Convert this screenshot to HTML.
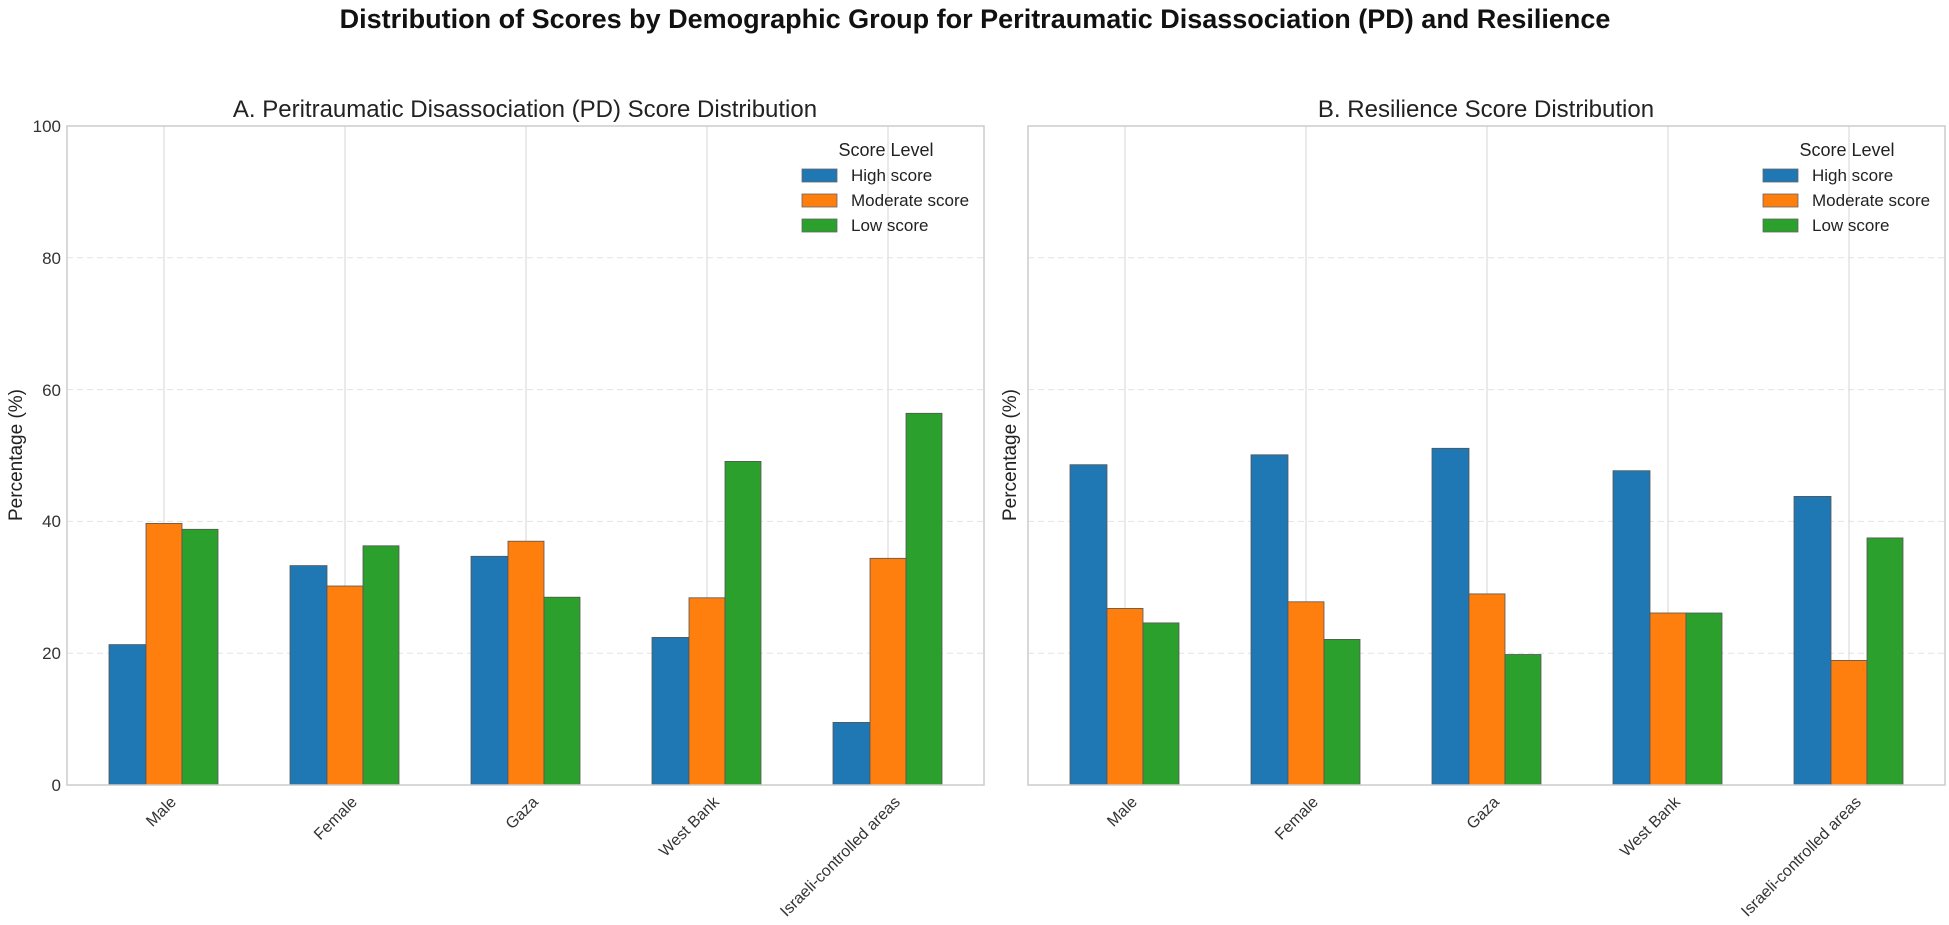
<!DOCTYPE html>
<html><head><meta charset="utf-8"><style>
html,body{margin:0;padding:0;background:#fff;}
svg{display:block;font-family:"Liberation Sans",sans-serif;}
</style></head><body>
<svg width="1949" height="925" viewBox="0 0 1949 925" xmlns="http://www.w3.org/2000/svg">
<text x="975" y="28" text-anchor="middle" font-size="27" font-weight="bold" fill="#111">Distribution of Scores by Demographic Group for Peritraumatic Disassociation (PD) and Resilience</text>
<text x="525" y="117" text-anchor="middle" font-size="24" fill="#222">A. Peritraumatic Disassociation (PD) Score Distribution</text>
<text x="1486" y="117" text-anchor="middle" font-size="24" fill="#222">B. Resilience Score Distribution</text>

<g stroke="#e3e3e3" stroke-width="1" stroke-dasharray="6,4">
<line x1="67" x2="984" y1="653.2" y2="653.2"/><line x1="67" x2="984" y1="521.4" y2="521.4"/><line x1="67" x2="984" y1="389.6" y2="389.6"/><line x1="67" x2="984" y1="257.8" y2="257.8"/>
<line x1="1028" x2="1945" y1="653.2" y2="653.2"/><line x1="1028" x2="1945" y1="521.4" y2="521.4"/><line x1="1028" x2="1945" y1="389.6" y2="389.6"/><line x1="1028" x2="1945" y1="257.8" y2="257.8"/>
</g>
<g stroke="#dcdcdc" stroke-width="1.2">
<line x1="164" x2="164" y1="126" y2="785"/><line x1="345" x2="345" y1="126" y2="785"/><line x1="526" x2="526" y1="126" y2="785"/><line x1="707" x2="707" y1="126" y2="785"/><line x1="888" x2="888" y1="126" y2="785"/>
<line x1="1125" x2="1125" y1="126" y2="785"/><line x1="1306" x2="1306" y1="126" y2="785"/><line x1="1487" x2="1487" y1="126" y2="785"/><line x1="1668" x2="1668" y1="126" y2="785"/><line x1="1849" x2="1849" y1="126" y2="785"/>
</g>

<g stroke="#555" stroke-width="0.8">
<rect x="109" y="644.6" width="37" height="140.4" fill="#1f77b4"/><rect x="146" y="523.4" width="36" height="261.6" fill="#ff7f0e"/><rect x="182" y="529.3" width="36" height="255.7" fill="#2ca02c"/>
<rect x="290" y="565.6" width="37" height="219.4" fill="#1f77b4"/><rect x="327" y="586" width="36" height="199" fill="#ff7f0e"/><rect x="363" y="545.8" width="36" height="239.2" fill="#2ca02c"/>
<rect x="471" y="556.3" width="37" height="228.7" fill="#1f77b4"/><rect x="508" y="541.2" width="36" height="243.8" fill="#ff7f0e"/><rect x="544" y="597.2" width="36" height="187.8" fill="#2ca02c"/>
<rect x="652" y="637.4" width="37" height="147.6" fill="#1f77b4"/><rect x="689" y="597.8" width="36" height="187.2" fill="#ff7f0e"/><rect x="725" y="461.4" width="36" height="323.6" fill="#2ca02c"/>
<rect x="833" y="722.4" width="37" height="62.6" fill="#1f77b4"/><rect x="870" y="558.3" width="36" height="226.7" fill="#ff7f0e"/><rect x="906" y="413.3" width="36" height="371.7" fill="#2ca02c"/>
<rect x="1070" y="464.7" width="37" height="320.3" fill="#1f77b4"/><rect x="1107" y="608.4" width="36" height="176.6" fill="#ff7f0e"/><rect x="1143" y="622.9" width="36" height="162.1" fill="#2ca02c"/>
<rect x="1251" y="454.8" width="37" height="330.2" fill="#1f77b4"/><rect x="1288" y="601.8" width="36" height="183.2" fill="#ff7f0e"/><rect x="1324" y="639.4" width="36" height="145.6" fill="#2ca02c"/>
<rect x="1432" y="448.3" width="37" height="336.7" fill="#1f77b4"/><rect x="1469" y="593.9" width="36" height="191.1" fill="#ff7f0e"/><rect x="1505" y="654.5" width="36" height="130.5" fill="#2ca02c"/>
<rect x="1613" y="470.7" width="37" height="314.3" fill="#1f77b4"/><rect x="1650" y="613" width="36" height="172" fill="#ff7f0e"/><rect x="1686" y="613" width="36" height="172" fill="#2ca02c"/>
<rect x="1794" y="496.4" width="37" height="288.6" fill="#1f77b4"/><rect x="1831" y="660.4" width="36" height="124.6" fill="#ff7f0e"/><rect x="1867" y="537.9" width="36" height="247.1" fill="#2ca02c"/>
</g>

<rect x="67" y="126" width="917" height="659" fill="none" stroke="#ccc" stroke-width="1.5"/>
<rect x="1028" y="126" width="917" height="659" fill="none" stroke="#ccc" stroke-width="1.5"/>

<g font-size="17" fill="#333" text-anchor="end">
<text x="61" y="132">100</text><text x="61" y="264">80</text><text x="61" y="396">60</text><text x="61" y="527">40</text><text x="61" y="659">20</text><text x="61" y="791">0</text>
</g>
<text transform="translate(22,455) rotate(-90)" text-anchor="middle" font-size="19" fill="#222">Percentage (%)</text>
<text transform="translate(1016,455) rotate(-90)" text-anchor="middle" font-size="19" fill="#222">Percentage (%)</text>

<g font-size="16" fill="#333" text-anchor="end">
<text transform="translate(177,803) rotate(-45)">Male</text>
<text transform="translate(358,803) rotate(-45)">Female</text>
<text transform="translate(539,803) rotate(-45)">Gaza</text>
<text transform="translate(720,803) rotate(-45)">West Bank</text>
<text transform="translate(901,803) rotate(-45)">Israeli-controlled areas</text>
<text transform="translate(1138,803) rotate(-45)">Male</text>
<text transform="translate(1319,803) rotate(-45)">Female</text>
<text transform="translate(1500,803) rotate(-45)">Gaza</text>
<text transform="translate(1681,803) rotate(-45)">West Bank</text>
<text transform="translate(1862,803) rotate(-45)">Israeli-controlled areas</text>
</g>

<g font-size="17" fill="#222">
<text x="886" y="156" text-anchor="middle" font-size="18">Score Level</text>
<rect x="802" y="169" width="35" height="13" fill="#1f77b4" stroke="#666" stroke-width="0.8"/><text x="851" y="181">High score</text>
<rect x="802" y="194" width="35" height="13" fill="#ff7f0e" stroke="#666" stroke-width="0.8"/><text x="851" y="206">Moderate score</text>
<rect x="802" y="219" width="35" height="13" fill="#2ca02c" stroke="#666" stroke-width="0.8"/><text x="851" y="231">Low score</text>
<text x="1847" y="156" text-anchor="middle" font-size="18">Score Level</text>
<rect x="1763" y="169" width="35" height="13" fill="#1f77b4" stroke="#666" stroke-width="0.8"/><text x="1812" y="181">High score</text>
<rect x="1763" y="194" width="35" height="13" fill="#ff7f0e" stroke="#666" stroke-width="0.8"/><text x="1812" y="206">Moderate score</text>
<rect x="1763" y="219" width="35" height="13" fill="#2ca02c" stroke="#666" stroke-width="0.8"/><text x="1812" y="231">Low score</text>
</g>
</svg>
</body></html>
